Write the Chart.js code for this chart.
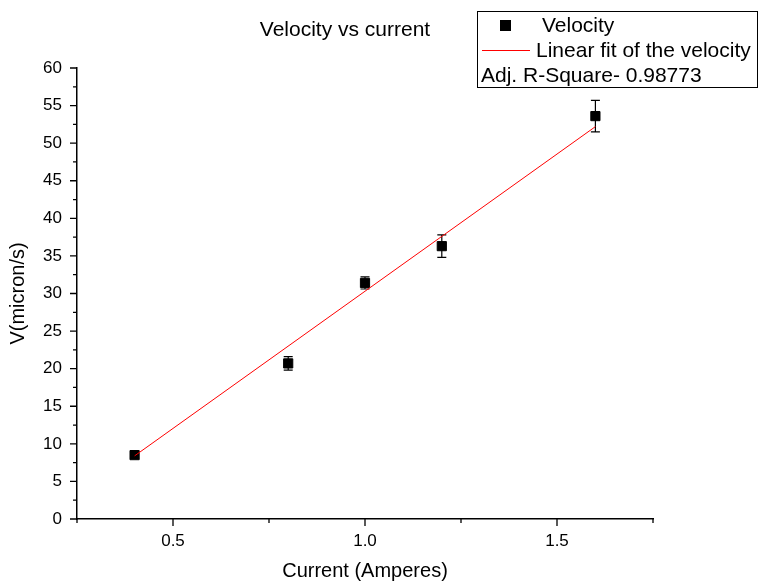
<!DOCTYPE html>
<html>
<head>
<meta charset="utf-8">
<title>Velocity vs current</title>
<script src="https://cdn.jsdelivr.net/npm/chart.js@4.4.1/dist/chart.umd.min.js"></script>
<style>
    html, body { margin: 0; padding: 0; background: #fff; }
    #grafico { display: block; }
</style>
</head>
<body>
<canvas id="grafico" width="759" height="583"></canvas>
<script>
// dados
const current = [0.4, 0.8, 1.0, 1.2, 1.6];
const velocity = [8.5, 20.7, 31.4, 36.3, 53.6];
const velocityErr = [0.4, 0.9, 0.8, 1.5, 2.1];

// reta ajustada (extremos)
const fitX = [0.4, 1.6];
const fitY = [8.4, 52.2];

const xMajor = [0.5, 1.0, 1.5];
const xMinor = [0.25, 0.75, 1.25, 1.75];
const yMajor = [0, 5, 10, 15, 20, 25, 30, 35, 40, 45, 50, 55, 60];
const yMinor = [2.5, 7.5, 12.5, 17.5, 22.5, 27.5, 32.5, 37.5, 42.5, 47.5, 52.5, 57.5];

const fonte = "'Liberation Sans', Arial, sans-serif";

const barrasErro = {
    id: 'barrasErro',
    beforeDatasetsDraw(chart) {
        const ctx = chart.ctx;
        const x = chart.scales.x, y = chart.scales.y;
        ctx.save();
        ctx.strokeStyle = '#000';
        ctx.lineWidth = 1.2;
        current.forEach((c, i) => {
            const px = x.getPixelForValue(c);
            const top = y.getPixelForValue(velocity[i] + velocityErr[i]);
            const bot = y.getPixelForValue(velocity[i] - velocityErr[i]);
            ctx.beginPath();
            ctx.moveTo(px, top); ctx.lineTo(px, bot);
            ctx.moveTo(px - 4.5, top); ctx.lineTo(px + 4.5, top);
            ctx.moveTo(px - 4.5, bot); ctx.lineTo(px + 4.5, bot);
            ctx.stroke();
        });
        ctx.restore();
    }
};

const marcas = {
    id: 'marcas',
    afterDraw(chart) {
        const ctx = chart.ctx;
        const x = chart.scales.x, y = chart.scales.y;
        const area = chart.chartArea;
        ctx.save();
        ctx.strokeStyle = '#000';
        ctx.lineWidth = 1.3;
        ctx.beginPath();
        xMajor.forEach(v => { const p = x.getPixelForValue(v); ctx.moveTo(p, area.bottom); ctx.lineTo(p, area.bottom + 7); });
        xMinor.forEach(v => { const p = x.getPixelForValue(v); ctx.moveTo(p, area.bottom); ctx.lineTo(p, area.bottom + 4); });
        yMajor.forEach(v => { const p = y.getPixelForValue(v); ctx.moveTo(area.left, p); ctx.lineTo(area.left - 7, p); });
        yMinor.forEach(v => { const p = y.getPixelForValue(v); ctx.moveTo(area.left, p); ctx.lineTo(area.left - 4, p); });
        ctx.stroke();

        // titulo
        ctx.fillStyle = '#000';
        ctx.font = '21px ' + fonte;
        ctx.textAlign = 'center';
        ctx.textBaseline = 'middle';
        ctx.fillText('Velocity vs current', 345, 30);

        // legenda
        ctx.lineWidth = 1;
        ctx.strokeRect(477.5, 11.5, 280, 76);
        ctx.fillRect(500, 20, 11, 11);
        ctx.strokeStyle = '#ff0000';
        ctx.beginPath();
        ctx.moveTo(482, 50.5); ctx.lineTo(530, 50.5);
        ctx.stroke();
        ctx.textAlign = 'left';
        ctx.fillText('Velocity', 542, 26);
        ctx.fillText('Linear fit of the velocity', 536, 51);
        ctx.fillText('Adj. R-Square- 0.98773', 481, 76);
        ctx.restore();
    }
};

new Chart(document.getElementById('grafico'), {
    type: 'scatter',
    data: {
        datasets: [{
            type: 'line',
            label: 'Linear fit of the velocity',
            data: fitX.map((v, i) => ({ x: v, y: fitY[i] })),
            borderColor: '#ff0000',
            borderWidth: 1,
            pointRadius: 0,
            fill: false
        }, {
            label: 'Velocity',
            data: current.map((v, i) => ({ x: v, y: velocity[i] })),
            pointStyle: 'rect',
            pointRadius: 6.5,
            backgroundColor: '#000',
            borderColor: '#000',
            borderWidth: 1
        }]
    },
    options: {
        responsive: false,
        animation: false,
        layout: { padding: { left: 0, top: 68, right: 106, bottom: 0 } },
        plugins: {
            legend: { display: false },
            title: { display: false },
            tooltip: { enabled: false }
        },
        scales: {
            x: {
                type: 'linear',
                min: 0.25,
                max: 1.75,
                afterFit: s => { s.height = 64; },
                ticks: {
                    stepSize: 0.25,
                    padding: 12,
                    color: '#000',
                    font: { family: fonte, size: 17 },
                    callback: v => (Math.abs(v * 2 - Math.round(v * 2)) < 1e-6 ? v.toFixed(1) : '')
                },
                grid: { display: true, drawOnChartArea: false, drawTicks: false },
                border: { display: true, color: '#000', width: 1.5 },
                title: {
                    display: true,
                    text: 'Current (Amperes)',
                    color: '#000',
                    font: { family: fonte, size: 20 },
                    padding: { top: 0, bottom: 0 }
                }
            },
            y: {
                min: 0,
                max: 60,
                afterFit: s => { s.width = 77; },
                ticks: {
                    stepSize: 5,
                    padding: 15,
                    color: '#000',
                    font: { family: fonte, size: 17 }
                },
                grid: { display: true, drawOnChartArea: false, drawTicks: false },
                border: { display: true, color: '#000', width: 1.5 },
                title: {
                    display: true,
                    text: 'V(micron/s)',
                    color: '#000',
                    font: { family: fonte, size: 20 },
                    padding: { top: 6, bottom: 0 }
                }
            }
        }
    },
    plugins: [barrasErro, marcas]
});
</script>
</body>
</html>
